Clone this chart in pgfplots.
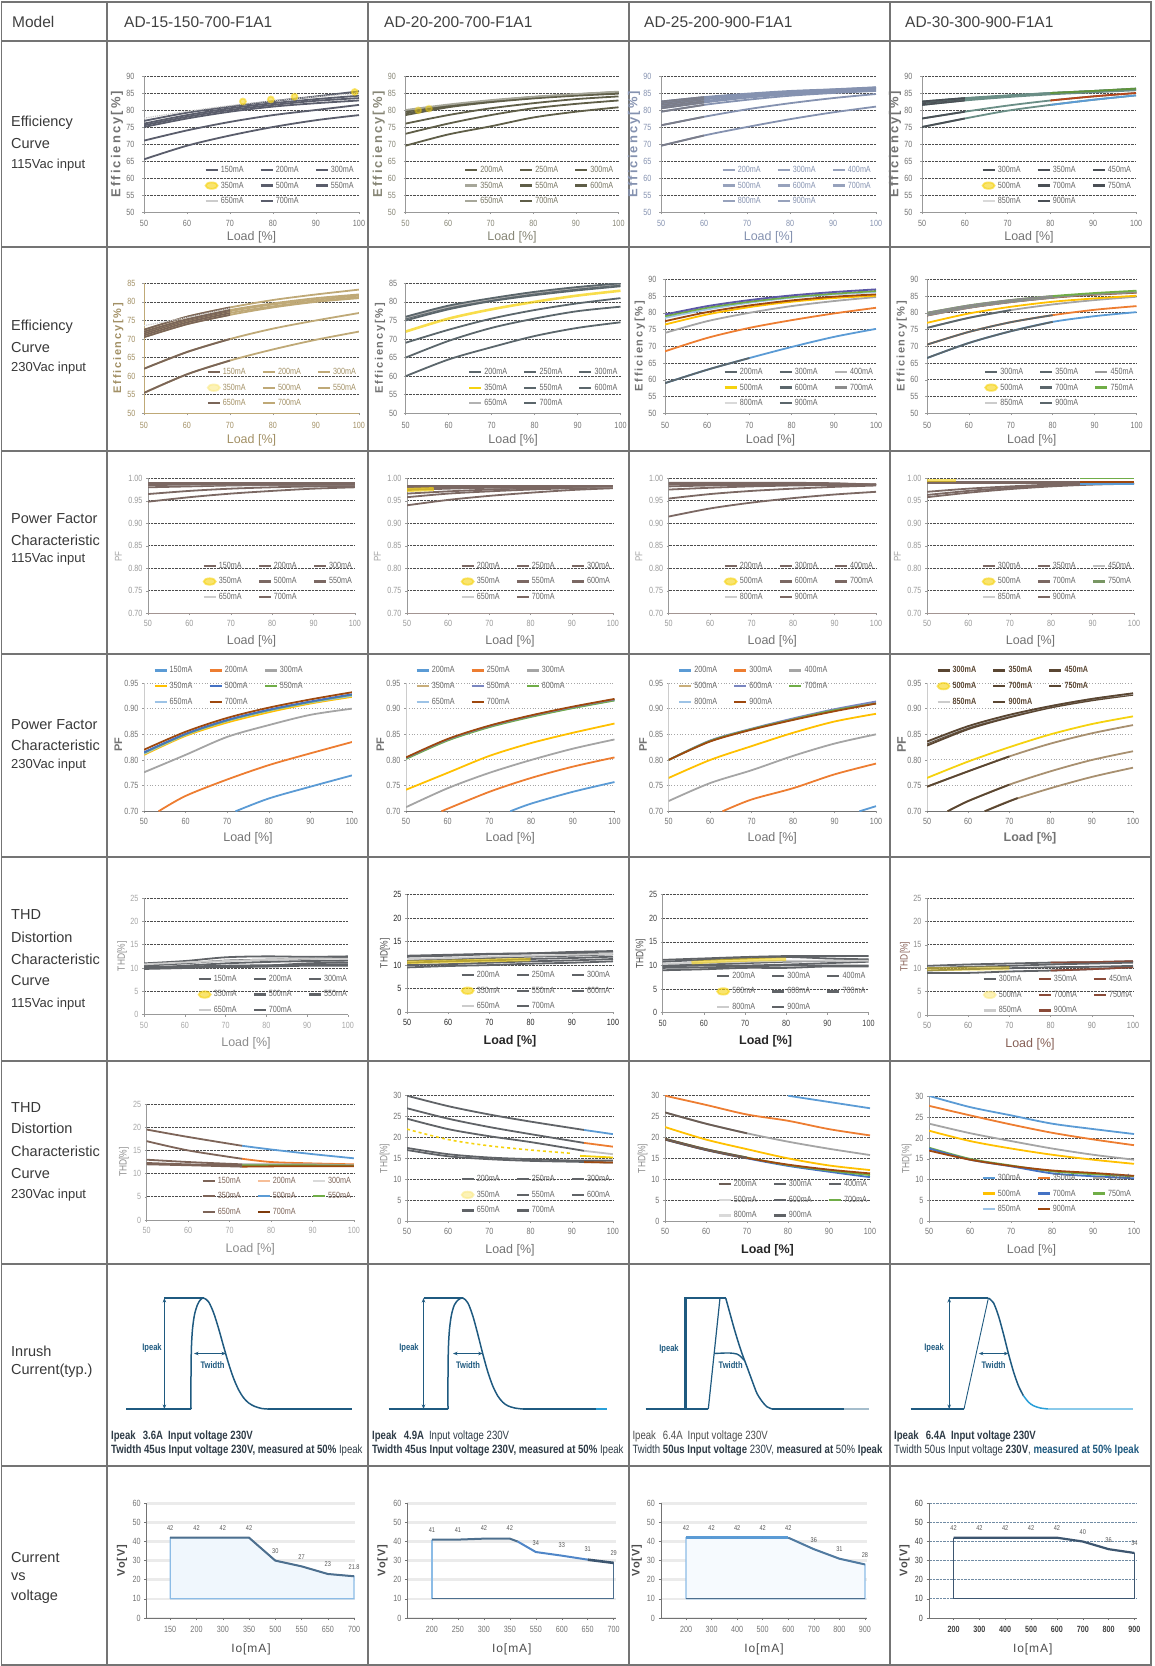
\documentclass[border=0pt]{standalone}
\usepackage{fontspec}
\setmainfont{Liberation Sans}
\newfontfamily\cf[FakeStretch=0.8]{Liberation Sans}
\newfontfamily\lsa[LetterSpace=16]{Liberation Sans}
\newfontfamily\lsb[LetterSpace=8]{Liberation Sans}
\usepackage{pgfplots}
\pgfplotsset{compat=1.18}
\usetikzlibrary{arrows.meta}

\definecolor{xblue}{HTML}{5B9BD5}
\definecolor{xorange}{HTML}{ED7D31}
\definecolor{xgrey}{HTML}{A5A5A5}
\definecolor{xyellow}{HTML}{FFC000}
\definecolor{xdblue}{HTML}{4472C4}
\definecolor{xgreen}{HTML}{70AD47}
\definecolor{xlblue}{HTML}{9DC3E6}
\definecolor{xdred}{HTML}{9E480E}
\definecolor{yel}{HTML}{F5D20F}
\definecolor{cA}{HTML}{5A5D6B}
\definecolor{cB}{HTML}{5F5E48}
\definecolor{cC}{HTML}{8592B0}
\definecolor{cD}{HTML}{6A8E86}
\definecolor{cDk}{HTML}{4A4F55}
\definecolor{cDr}{HTML}{B5451B}
\definecolor{cE}{HTML}{7A6558}
\definecolor{cEt}{HTML}{BFA977}
\definecolor{cF}{HTML}{5B666B}
\definecolor{cP}{HTML}{5B57A6}
\definecolor{cG}{HTML}{7B6863}
\definecolor{cH}{HTML}{C9AE7A}
\definecolor{cHp}{HTML}{7A86C0}
\definecolor{cI}{HTML}{5A4632}
\definecolor{cIt}{HTML}{A89070}
\definecolor{cJ}{HTML}{606367}
\definecolor{cJb}{HTML}{8A4A38}
\definecolor{cK}{HTML}{7D6458}
\definecolor{cKb}{HTML}{6B5D55}
\definecolor{inr}{HTML}{1F5A80}
\definecolor{inrl}{HTML}{2A9FD8}
\definecolor{vline}{HTML}{4D6F8E}
\definecolor{vfill}{HTML}{F0F7FD}
\definecolor{vedge}{HTML}{8CBCE6}
\definecolor{vmid}{HTML}{4F86C8}
\definecolor{vdark}{HTML}{3D5670}
\definecolor{tbl}{HTML}{747474}
\definecolor{txt}{HTML}{2E3B46}

\newcommand{\fs}[1]{\fontsize{#1}{#1}\selectfont}
\newcommand{\crv}[7]{\addplot[#1,forget plot] coordinates {(50,#2)(60,#3)(70,#4)(80,#5)(90,#6)(100,#7)};}
\newcommand{\crvo}[8]{\addplot[#1,forget plot] coordinates {(50,#3)(60,#4)(70,#5)(80,#6)(90,#7)(100,#8)};%
\addplot[#2,forget plot] coordinates {(50,#3)(60,#4)(70,#5)(80,#6)(90,#7)(100,#8)};}
\newcommand{\LE}[2]{\addlegendimage{#1}\addlegendentry{#2}}
\newcommand{\LB}[2]{\addlegendimage{legend image code/.code={\fill[#1,opacity=0.6] (6pt,0pt) ellipse (6pt and 3.2pt);}}\addlegendentry{#2}}
\newcommand{\rh}[3]{\node[anchor=west,font=\fs{#1},text=black!78,inner sep=0pt] at (11pt,-#2pt) {#3};}

\pgfplotsset{
 ch/.style={scale only axis, anchor=north west, xmin=50, xmax=100, xtick={50,60,70,80,90,100},
  axis x line*=bottom, axis y line*=left,
  axis line style={line width=0.8pt, draw=black!40},
  ymajorgrids, grid style={densely dotted, line width=0.75pt, draw=black!70},
  tick align=outside, major tick length=2pt, tick style={draw=black!40, line width=0.5pt},
  tick label style={font=\cf\fs{9}, text=black!55},
  /pgf/number format/assume math mode=true,
  xlabel={Load [\%]}, label style={font=\fs{12.5}, text=black!55},
  xlabel style={at={(axis description cs:0.5,0)}, anchor=center},
  every axis plot/.append style={smooth, line width=1.8pt, mark=none},
  legend columns=3, legend cell align=left,
  legend style={draw=none, fill=none, font=\cf\fs{9}, text=black!60, row sep=3.8pt,
    /tikz/every even column/.append style={column sep=14pt}},
  legend image code/.code={\draw[line width=2.3pt] (0pt,0pt) -- (12pt,0pt);},
 },
 r1/.style={ymin=50, ymax=90, ytick={50,55,...,90}, ylabel={Efficiency[\%]},
  ylabel style={font=\lsa\bfseries\fs{13}, text=black!55, at={(axis description cs:-0.126,0.5)}, anchor=center},
  xlabel style={yshift=-25.6pt}, yticklabel style={xshift=-4pt}, xticklabel style={yshift=-3pt},
  legend style={at={(1.0,0.02)}, anchor=south east}},
 r2/.style={ymin=50, ymax=85, ytick={50,55,...,85}, ylabel={Efficiency[\%]},
  ylabel style={font=\lsa\bfseries\fs{11}, text=black!55, at={(axis description cs:-0.12,0.5)}, anchor=center},
  xlabel style={yshift=-26.7pt}, yticklabel style={xshift=-3pt}, xticklabel style={yshift=-3.5pt},
  legend style={at={(1.01,0.015)}, anchor=south east}},
 r2b/.style={r2, ymax=90, ytick={50,55,...,90}},
 r3/.style={ymin=0.7, ymax=1, ytick={0.70,0.75,0.80,0.85,0.90,0.95,1.00},
  yticklabel style={/pgf/number format/fixed, /pgf/number format/fixed zerofill, /pgf/number format/precision=2},
  ylabel={PF}, ylabel style={font=\cf\fs{10}, text=black!35, at={(axis description cs:-0.143,0.42)}, anchor=center},
  tick label style={text=black!40}, x axis line style={line width=1.6pt, draw=cG!70},
  xlabel style={yshift=-27.7pt}, xticklabel style={yshift=-1pt},
  legend style={at={(1.01,0.06)}, anchor=south east}},
 r4/.style={ymin=0.7, ymax=0.95, ytick={0.70,0.75,0.80,0.85,0.90,0.95},
  yticklabel style={/pgf/number format/fixed, /pgf/number format/fixed zerofill, /pgf/number format/precision=2},
  ylabel={PF}, ylabel style={font=\bfseries\fs{11}, text=black!55, at={(axis description cs:-0.123,0.52)}, anchor=center},
  grid style={dotted, line width=1pt, draw=black!35}, x axis line style={line width=1.3pt, draw=black!55},
  y axis line style={draw=black!20},
  xlabel style={yshift=-26.7pt}, xticklabel style={yshift=-1.5pt},
  legend style={at={(0.03,1.16)}, anchor=north west}},
 r5/.style={ymin=0, ymax=25, ytick={0,5,...,25}, ylabel={THD[\%]},
  ylabel style={font=\cf\fs{10.5}, text=black!45, at={(axis description cs:-0.107,0.5)}, anchor=center},
  xlabel style={yshift=-29pt}, xticklabel style={yshift=-2pt},
  legend style={at={(1.02,-0.03)}, anchor=south east}},
 r6/.style={r5, ylabel style={at={(axis description cs:-0.109,0.5)}}, legend style={at={(1.01,0.0)}, anchor=south east}},
 r6b/.style={r6, ymax=30, ytick={0,5,...,30}},
 ir/.style={scale only axis, anchor=south west, hide axis, xmin=0, xmax=261, ymin=0, ymax=1,
  width=261pt, height=111pt, clip=false, cycle list={{inr,mark=none,solid}},
  every axis plot/.append style={line width=1.5pt, mark=none, sharp plot}},
 ar/.style={inr, line width=0.7pt, arrows={Stealth[length=4.5pt,width=3.5pt]-Stealth[length=4.5pt,width=3.5pt]}},
 vv/.style={scale only axis, anchor=north west, ymin=0, ymax=60, ytick={0,10,...,60}, xtick={0,...,7},
  height=114.6pt, axis x line*=bottom, axis y line*=left,
  axis line style={line width=0.7pt, draw=black!55},
  ymajorgrids, grid style={line width=2.5pt, draw=black!8},
  tick align=outside, major tick length=2.5pt, tick style={draw=black!55, line width=0.5pt},
  tick label style={font=\cf\fs{9}, text=black!55}, xticklabel style={yshift=-2pt},
  /pgf/number format/assume math mode=true,
  xlabel={Io[mA]}, ylabel={Vo[V]},
  xlabel style={font=\lsb\fs{12}, text=black!70, at={(axis description cs:0.5,0)}, anchor=center, yshift=-31pt},
  ylabel style={font=\lsb\bfseries\fs{11}, text=black!70, at={(axis description cs:-0.118,0.5)}, anchor=center}},
 lab/.style={only marks, mark=*, mark size=0pt, nodes near coords, point meta=explicit symbolic,
  every node near coord/.append style={font=\cf\fs{7}, text=black!65, anchor=south, yshift=3.5pt}},
}

\begin{document}
\begin{tikzpicture}
\path[use as bounding box] (0,0) rectangle (1155pt,-1666pt);
% ---- table ----
\draw[tbl, line width=1.6pt] (1.5pt,-2pt) rectangle (1151pt,-1665pt);
\foreach \x in {107,368,629,890} \draw[tbl, line width=1.3pt] (\x pt,-2pt) -- (\x pt,-1665pt);
\foreach \y in {41,247,451,654,857,1061,1264,1466} \draw[tbl, line width=1.8pt] (1.5pt,-\y pt) -- (1151pt,-\y pt);
\node[anchor=west,font=\fs{15.5},text=black!75,inner sep=0pt] at (12pt,-22pt) {Model};
\node[anchor=west,font=\fs{15.5},text=black!75,inner sep=0pt] at (124pt,-22pt) {AD-15-150-700-F1A1};
\node[anchor=west,font=\fs{15.5},text=black!75,inner sep=0pt] at (384pt,-22pt) {AD-20-200-700-F1A1};
\node[anchor=west,font=\fs{15.5},text=black!75,inner sep=0pt] at (644pt,-22pt) {AD-25-200-900-F1A1};
\node[anchor=west,font=\fs{15.5},text=black!75,inner sep=0pt] at (905pt,-22pt) {AD-30-300-900-F1A1};
\rh{14.5}{123}{Efficiency}\rh{14.5}{144}{Curve}\rh{13}{165}{115Vac input}
\rh{14.5}{327}{Efficiency}\rh{14.5}{348}{Curve}\rh{13}{368}{230Vac input}
\rh{14.5}{519}{Power Factor}\rh{14.5}{540}{Characteristic}\rh{13}{559}{115Vac input}
\rh{14.5}{725}{Power Factor}\rh{14.5}{745}{Characteristic}\rh{13}{765}{230Vac input}
\rh{14.5}{914}{THD}\rh{14.5}{937}{Distortion}\rh{14.5}{959}{Characteristic}\rh{14.5}{980}{Curve}\rh{13}{1004}{115Vac input}
\rh{14.5}{1107}{THD}\rh{14.5}{1128}{Distortion}\rh{14.5}{1151}{Characteristic}\rh{14.5}{1173}{Curve}\rh{13}{1195}{230Vac input}
\rh{14.5}{1351}{Inrush}\rh{14.5}{1371}{Current(typ.)}
\rh{14.5}{1557}{Current}\rh{14.5}{1577}{vs}\rh{14.5}{1597}{voltage}

% ================= ROW 1 =================
\begin{axis}[ch, r1, at={(144pt,-76pt)}, width=215pt, height=136pt]
\crv{cA}{65.5}{69.5}{72.5}{75}{77}{78.5}
\crv{cA}{71}{74}{76.5}{78.5}{80}{81.5}
\crv{cA}{75}{77.5}{79.5}{81}{82}{82.8}
\crv{cA}{75.5}{78}{80}{81.5}{82.7}{83.5}
\crv{cA}{76}{78.5}{80.5}{82}{83.2}{84.2}
\crv{cA}{76.8}{79.2}{81}{82.6}{84}{85.5}
\crv{black!22,line width=1.2pt,densely dotted}{77.6}{79.6}{81.3}{82.7}{83.9}{84.9}
\addplot[only marks,mark=*,mark size=3pt,yel,opacity=0.55,forget plot] coordinates {(73,82.5)(79.5,83.1)(85,83.9)(99,85.3)};
\LE{cA}{150mA}\LE{cA}{200mA}\LE{cA}{300mA}
\LB{yel}{350mA}\LE{cA}{500mA}\LE{cA}{550mA}
\LE{black!20}{650mA}\LE{cA}{700mA}
\end{axis}

\begin{axis}[ch, r1, at={(405.5pt,-76pt)}, width=213pt, height=136pt, tick label style={text=cB!75}, label style={text=cB!75}, legend style={text=cB!85}]
\crv{cB}{69.5}{72.8}{75.2}{77.8}{79.5}{80.8}
\crv{cB}{73}{76}{78.5}{80.5}{81.8}{82.8}
\crv{cB}{76}{78.5}{80.5}{82}{83.2}{84}
\crv{cB}{78.5}{80.8}{82.3}{83.4}{84.2}{84.8}
\crv{cB}{79}{81}{82.5}{83.6}{84.5}{85.2}
\crv{cB}{79.5}{81.3}{82.7}{83.8}{84.6}{85.3}
\crv{cB!55}{80}{81.6}{82.9}{83.9}{84.7}{85.4}
\addplot[only marks,mark=*,mark size=3pt,yel,opacity=0.4,forget plot] coordinates {(53,79.9)(55.5,80.4)};
\LE{cB}{200mA}\LE{cB}{250mA}\LE{cB}{300mA}
\LE{cB!55}{350mA}\LE{cB}{550mA}\LE{cB}{600mA}
\LE{cB!55}{650mA}\LE{cB}{700mA}
\end{axis}

\begin{axis}[ch, r1, at={(661pt,-76pt)}, width=215pt, height=136pt, tick label style={text=cC}, label style={text=cC}, legend style={text=cC}]
\crvo{cC}{cA!80,restrict x to domain=50:60}{69.5}{72.5}{75}{77.3}{79.3}{81}
\crvo{cC}{cA!80,restrict x to domain=50:60}{75.5}{78}{80.2}{82}{83.5}{84.7}
\crvo{cC}{cA!80,restrict x to domain=50:60}{79.5}{81.5}{83}{84.2}{85}{85.6}
\crvo{cC}{cA!80,restrict x to domain=50:60}{80.5}{82.2}{83.6}{84.6}{85.3}{85.9}
\crvo{cC}{cA!80,restrict x to domain=50:60}{81}{82.6}{84}{84.9}{85.6}{86.2}
\crvo{cC}{cA!80,restrict x to domain=50:60}{81.5}{83.1}{84.3}{85.2}{85.8}{86.4}
\crvo{cC}{cA!80,restrict x to domain=50:60}{82}{83.5}{84.6}{85.4}{86}{86.6}
\crvo{cC}{cA!80,restrict x to domain=50:60}{82.5}{83.8}{84.8}{85.6}{86.1}{86.7}
\LE{cC!85}{200mA}\LE{cC!85}{300mA}\LE{cC!85}{400mA}
\LE{cC!85}{500mA}\LE{cC!85}{600mA}\LE{cC!85}{700mA}
\LE{cC!85}{800mA}\LE{cC!85}{900mA}
\end{axis}

\begin{axis}[ch, r1, at={(922pt,-76pt)}, width=214pt, height=136pt]
\crvo{cD}{cDk,restrict x to domain=50:60}{75}{77.5}{79.8}{81.5}{83}{84.3}
\crv{xblue,restrict x to domain=80:100}{75}{77.5}{79.8}{81.5}{83}{84.3}
\crvo{cD}{cDk,restrict x to domain=50:60}{77.5}{79.5}{81.3}{82.8}{84}{85}
\crv{cDr,restrict x to domain=80:100}{77.5}{79.5}{81.3}{82.8}{84}{85}
\crvo{cD}{cDk,restrict x to domain=50:60}{81.5}{82.8}{83.8}{84.6}{85.2}{85.8}
\crvo{cD}{cDk,restrict x to domain=50:60}{82}{83.2}{84.1}{84.9}{85.5}{86}
\crvo{cD}{cDk,restrict x to domain=50:60}{82.3}{83.4}{84.2}{85}{85.6}{86.2}
\crvo{cD}{cDk,restrict x to domain=50:60}{82.5}{83.5}{84.3}{85}{85.6}{86.3}
\crv{xgreen!85!black,restrict x to domain=80:100}{82.5}{83.5}{84.3}{85}{85.6}{86.3}
\LE{cDk}{300mA}\LE{cDk}{350mA}\LE{cDk}{450mA}
\LB{yel}{500mA}\LE{cDk}{700mA}\LE{cDk}{750mA}
\LE{black!15}{850mA}\LE{cDk}{900mA}
\end{axis}

% ================= ROW 2 =================
\begin{axis}[ch, r2, at={(144pt,-283.3pt)}, width=215pt, height=130pt, tick label style={text=cEt!85!black}, label style={text=cEt!85!black}, legend style={text=cEt!85!black}, axis line style={draw=cEt}]
\crvo{cEt}{cE,restrict x to domain=50:70}{55.5}{60.5}{64.2}{67.2}{69.8}{72}
\crvo{cEt}{cE,restrict x to domain=50:70}{62}{66.5}{70}{72.8}{75}{77}
\crvo{cEt}{cE,restrict x to domain=50:70}{70.5}{74}{76.5}{78.5}{80}{81}
\crvo{cEt}{cE,restrict x to domain=50:70}{71}{74.5}{77}{78.8}{80.2}{81.3}
\crvo{cEt}{cE,restrict x to domain=50:70}{71.5}{75}{77.5}{79.3}{80.6}{81.7}
\crvo{cEt}{cE,restrict x to domain=50:70}{72}{75.3}{77.8}{79.6}{81}{82}
\crvo{cEt}{cE,restrict x to domain=50:70}{72.5}{76}{78.5}{80.5}{82}{83.3}
\crv{black!18,line width=1.2pt,densely dotted,restrict x to domain=50:70}{73.6}{75.8}{78.3}{80}{81}{82}
\LE{cE}{150mA}\LE{cEt}{200mA}\LE{cEt}{300mA}
\LB{yel!50}{350mA}\LE{cEt}{500mA}\LE{cEt}{550mA}
\LE{cE}{650mA}\LE{cEt}{700mA}
\end{axis}

\begin{axis}[ch, r2, at={(405.7pt,-283.3pt)}, width=214.8pt, height=130pt]
\crv{cF}{60}{64.5}{67.8}{70.8}{73}{74.5}
\crv{cF}{65}{69.5}{73}{75.5}{77.5}{78.7}
\crv{cF}{69}{72.5}{75.5}{77.8}{79.6}{81}
\crv{yel,line width=2.6pt,opacity=0.75}{72}{75.5}{78}{80}{81.7}{83}
\crv{cF}{75}{78}{80.2}{81.8}{83.1}{84.2}
\crv{cF}{75.5}{78.4}{80.5}{82.2}{83.5}{84.6}
\crv{black!30}{75.8}{78.7}{80.8}{82.5}{83.8}{84.9}
\crv{cF}{76}{79}{81}{82.7}{84}{85}
\LE{cF}{200mA}\LE{cF}{250mA}\LE{cF}{300mA}
\LE{yel}{350mA}\LE{cF}{550mA}\LE{cF}{600mA}
\LE{black!30}{650mA}\LE{cF}{700mA}
\end{axis}

\begin{axis}[ch, r2b, at={(665pt,-279.3pt)}, width=211pt, height=134pt]
\crvo{xblue}{cF,restrict x to domain=50:70}{59}{63}{66.5}{69.8}{72.8}{75.2}
\crv{xorange}{68.5}{72.5}{75.5}{77.8}{79.8}{81.5}
\crv{xgrey}{74}{77.5}{80}{82}{83.5}{84.7}
\crv{xyellow}{76.5}{79.5}{81.7}{83.3}{84.4}{85.1}
\crv{xdred}{77.5}{80.2}{82.2}{83.7}{84.8}{85.5}
\crv{xlblue}{78.5}{81}{83}{84.5}{85.5}{86.2}
\crv{xgreen}{79}{81.5}{83.3}{84.7}{85.7}{86.5}
\crv{cP}{79.5}{82}{83.8}{85.2}{86.2}{87}
\LE{cF}{200mA}\LE{cF}{300mA}\LE{black!30}{400mA}
\LE{yel}{500mA}\LE{cF}{600mA}\LE{black!45}{700mA}
\LE{black!15}{800mA}\LE{cF}{900mA}
\end{axis}

\begin{axis}[ch, r2b, at={(927pt,-279.3pt)}, width=209.5pt, height=134pt]
\crvo{xblue}{cF,restrict x to domain=50:80}{66.5}{71}{74.5}{77.3}{79}{80.2}
\crvo{xorange}{cF,restrict x to domain=50:80}{70.5}{74.3}{77.2}{79.3}{80.9}{82}
\crvo{xgrey}{cF,restrict x to domain=50:70}{75.5}{78.5}{80.8}{82.5}{83.8}{84.8}
\crv{xyellow}{77}{79.8}{81.8}{83.3}{84.3}{85.1}
\crvo{xdred}{black!45,restrict x to domain=50:80}{79.2}{81.5}{83.2}{84.5}{85.4}{86}
\crv{black!25}{79.8}{82}{83.6}{84.8}{85.7}{86.3}
\crv{black!45}{79.5}{81.8}{83.4}{84.6}{85.5}{86.1}
\crvo{xgreen}{black!45,restrict x to domain=50:80}{80}{82.2}{83.8}{85}{85.9}{86.6}
\LE{cF}{300mA}\LE{cF}{350mA}\LE{black!40}{450mA}
\LB{yel}{500mA}\LE{cF}{700mA}\LE{xgreen}{750mA}
\LE{black!20}{850mA}\LE{cF}{900mA}
\end{axis}

% ================= ROW 3 =================
\begin{axis}[ch, r3, at={(148pt,-478.3pt)}, width=207pt, height=135pt]
\crv{cG}{0.948}{0.958}{0.966}{0.972}{0.977}{0.980}
\crv{cG}{0.965}{0.972}{0.977}{0.980}{0.982}{0.983}
\crv{cG}{0.980}{0.982}{0.984}{0.985}{0.985}{0.985}
\crv{black!20,line width=1pt}{0.984}{0.985}{0.986}{0.986}{0.986}{0.986}
\crv{cG}{0.985}{0.986}{0.987}{0.987}{0.987}{0.987}
\crv{cG}{0.987}{0.988}{0.988}{0.988}{0.988}{0.988}
\crv{cG}{0.989}{0.989}{0.989}{0.989}{0.989}{0.989}
\crv{cG}{0.990}{0.990}{0.990}{0.990}{0.990}{0.990}
\LE{cG}{150mA}\LE{cG}{200mA}\LE{cG}{300mA}
\LB{yel}{350mA}\LE{cG}{500mA}\LE{cG}{550mA}
\LE{black!20}{650mA}\LE{cG}{700mA}
\end{axis}

\begin{axis}[ch, r3, at={(407pt,-478.3pt)}, width=206pt, height=135pt]
\crv{cG}{0.940}{0.952}{0.961}{0.968}{0.974}{0.978}
\crv{cG}{0.958}{0.966}{0.971}{0.975}{0.978}{0.980}
\crv{cG}{0.966}{0.971}{0.975}{0.978}{0.980}{0.981}
\crv{black!20,line width=1pt}{0.976}{0.978}{0.979}{0.980}{0.981}{0.981}
\crv{cG}{0.974}{0.977}{0.979}{0.980}{0.981}{0.982}
\crv{cG}{0.979}{0.980}{0.981}{0.982}{0.982}{0.983}
\crv{cG}{0.983}{0.983}{0.983}{0.983}{0.983}{0.983}
\addplot[yel,line width=4pt,opacity=0.7,forget plot] coordinates {(50,0.974)(53,0.975)(56.5,0.976)};
\LE{cG}{200mA}\LE{cG}{250mA}\LE{cG}{300mA}
\LB{yel}{350mA}\LE{cG}{550mA}\LE{cG}{600mA}
\LE{black!20}{650mA}\LE{cG}{700mA}
\end{axis}

\begin{axis}[ch, r3, at={(668.6pt,-478.3pt)}, width=207.4pt, height=135pt]
\crv{cG}{0.915}{0.933}{0.946}{0.956}{0.964}{0.970}
\crv{cG}{0.955}{0.965}{0.972}{0.977}{0.981}{0.984}
\crv{cG}{0.975}{0.979}{0.982}{0.984}{0.985}{0.986}
\crv{cG}{0.982}{0.984}{0.985}{0.986}{0.986}{0.986}
\crv{black!20,line width=1pt}{0.987}{0.987}{0.987}{0.987}{0.987}{0.986}
\crv{cG}{0.986}{0.987}{0.987}{0.987}{0.987}{0.986}
\crv{cG}{0.988}{0.988}{0.988}{0.988}{0.988}{0.986}
\crv{cG}{0.990}{0.990}{0.990}{0.990}{0.989}{0.986}
\LE{cG}{200mA}\LE{cG}{300mA}\LE{cG}{400mA}
\LB{yel}{500mA}\LE{cG}{600mA}\LE{cG}{700mA}
\LE{black!20}{800mA}\LE{cG}{900mA}
\end{axis}

\begin{axis}[ch, r3, at={(927pt,-478.3pt)}, width=207pt, height=135pt]
\crv{cG}{0.958}{0.968}{0.976}{0.982}{0.986}{0.988}
\crv{cG}{0.963}{0.972}{0.979}{0.984}{0.987}{0.989}
\crv{cG}{0.970}{0.977}{0.982}{0.986}{0.988}{0.990}
\crv{cG}{0.990}{0.990}{0.990}{0.990}{0.990}{0.990}
\crv{cG}{0.991}{0.991}{0.991}{0.991}{0.991}{0.991}
\addplot[xblue,forget plot] coordinates {(87,0.988)(100,0.988)};
\addplot[xdred,forget plot] coordinates {(87,0.991)(100,0.991)};
\addplot[xgreen,line width=1pt,forget plot] coordinates {(87,0.9995)(100,0.9995)};
\addplot[yel,line width=3.5pt,opacity=0.6,forget plot] coordinates {(50,0.995)(57,0.995)};
\addplot[black!15,line width=1pt,forget plot] coordinates {(57,0.997)(80,0.997)};
\LE{cG}{300mA}\LE{cG}{350mA}\LE{black!25}{450mA}
\LB{yel}{500mA}\LE{cG}{700mA}\LE{xgreen!50!gray}{750mA}
\LE{black!20}{850mA}\LE{cG}{900mA}
\end{axis}

% ================= ROW 4 =================
\begin{axis}[ch, r4, at={(144pt,-683pt)}, width=208pt, height=128.3pt]
\addplot[xblue,forget plot] coordinates {(72,0.70)(80,0.725)(90,0.748)(100,0.770)};
\addplot[xorange,forget plot] coordinates {(53.5,0.70)(60,0.73)(70,0.762)(80,0.79)(90,0.813)(100,0.835)};
\crv{xgrey}{0.776}{0.81}{0.845}{0.868}{0.888}{0.90}
\crv{xyellow}{0.81}{0.847}{0.873}{0.893}{0.91}{0.923}
\crv{xlblue}{0.812}{0.849}{0.876}{0.896}{0.912}{0.925}
\crv{xgreen}{0.814}{0.85}{0.877}{0.897}{0.913}{0.927}
\crv{xdblue}{0.815}{0.851}{0.878}{0.898}{0.914}{0.928}
\crv{xdred}{0.82}{0.855}{0.882}{0.902}{0.918}{0.932}
\LE{xblue}{150mA}\LE{xorange}{200mA}\LE{xgrey}{300mA}
\LE{xyellow}{350mA}\LE{xdblue}{500mA}\LE{xgreen}{550mA}
\LE{xlblue}{650mA}\LE{xdred}{700mA}
\end{axis}

\begin{axis}[ch, r4, at={(406pt,-683pt)}, width=208.5pt, height=128.3pt]
\addplot[xblue,forget plot] coordinates {(75,0.70)(80,0.715)(90,0.738)(100,0.757)};
\addplot[xorange,forget plot] coordinates {(58.5,0.70)(70,0.738)(80,0.765)(90,0.787)(100,0.805)};
\crv{xgrey}{0.708}{0.745}{0.775}{0.80}{0.822}{0.84}
\crv{xyellow}{0.742}{0.775}{0.808}{0.833}{0.853}{0.871}
\crv{xlblue}{0.803}{0.839}{0.865}{0.885}{0.902}{0.916}
\crv{xgreen}{0.802}{0.838}{0.864}{0.884}{0.901}{0.916}
\crv{cHp}{0.804}{0.840}{0.866}{0.886}{0.903}{0.918}
\crv{xdred}{0.805}{0.841}{0.867}{0.887}{0.904}{0.919}
\LE{xblue}{200mA}\LE{xorange}{250mA}\LE{xgrey}{300mA}
\LE{cH}{350mA}\LE{cHp}{550mA}\LE{xgreen}{600mA}
\LE{xlblue}{650mA}\LE{xdred}{700mA}
\end{axis}

\begin{axis}[ch, r4, at={(668.6pt,-683pt)}, width=207.4pt, height=128.3pt]
\addplot[xblue,forget plot] coordinates {(96,0.70)(100,0.71)};
\addplot[xorange,forget plot] coordinates {(63,0.70)(70,0.723)(80,0.745)(90,0.772)(100,0.793)};
\crv{xgrey}{0.72}{0.755}{0.78}{0.808}{0.832}{0.85}
\crv{xyellow}{0.765}{0.80}{0.827}{0.853}{0.875}{0.89}
\crv{xlblue}{0.80}{0.837}{0.86}{0.88}{0.897}{0.911}
\crv{cHp}{0.80}{0.838}{0.861}{0.881}{0.899}{0.914}
\crv{xgreen}{0.80}{0.837}{0.86}{0.879}{0.897}{0.91}
\crv{xdred}{0.80}{0.836}{0.859}{0.878}{0.895}{0.91}
\LE{xblue}{200mA}\LE{xorange}{300mA}\LE{xgrey}{400mA}
\LE{cH}{500mA}\LE{cHp}{600mA}\LE{xgreen}{700mA}
\LE{xlblue}{800mA}\LE{xdred}{900mA}
\end{axis}

\begin{axis}[ch, r4, at={(927pt,-683pt)}, width=206pt, height=128.3pt, legend style={text=cI, font=\cf\bfseries\fs{9}}, label style={font=\bfseries\fs{12.5}}]
\addplot[cIt,forget plot] coordinates {(64,0.70)(70,0.72)(80,0.745)(90,0.767)(100,0.785)};
\addplot[cI,forget plot] coordinates {(64,0.70)(68,0.713)(72,0.726)};
\addplot[cIt,forget plot] coordinates {(55,0.70)(60,0.72)(70,0.752)(80,0.778)(90,0.80)(100,0.817)};
\addplot[cI,forget plot] coordinates {(55,0.70)(60,0.72)(70,0.752)};
\crvo{cIt}{cI,restrict x to domain=50:70}{0.748}{0.778}{0.807}{0.832}{0.852}{0.868}
\crv{yel}{0.765}{0.797}{0.825}{0.85}{0.87}{0.885}
\crv{cI}{0.828}{0.86}{0.883}{0.902}{0.916}{0.927}
\crv{cI}{0.832}{0.863}{0.886}{0.904}{0.918}{0.929}
\crv{black!25}{0.834}{0.865}{0.887}{0.905}{0.919}{0.929}
\crv{cI}{0.836}{0.866}{0.888}{0.905}{0.919}{0.930}
\LE{cI}{300mA}\LE{cI}{350mA}\LE{cI}{450mA}
\LB{yel}{500mA}\LE{cI}{700mA}\LE{cI}{750mA}
\LE{black!20}{850mA}\LE{cI}{900mA}
\end{axis}

% ================= ROW 5 =================
\begin{axis}[ch, r5, at={(144pt,-898pt)}, width=204pt, height=116.7pt, tick label style={text=black!35}, label style={text=black!45}]
\crv{cJ}{10}{10.3}{10.5}{10.6}{10.7}{10.8}
\crv{cJ}{10.5}{11}{11.6}{11.8}{12}{12.3}
\crv{cJ}{11}{11.5}{12.3}{12.5}{12.4}{12.5}
\crv{cJ}{10}{10.5}{11}{11.3}{11.5}{11.6}
\crv{cJ}{10.2}{10.3}{10.2}{10.3}{10.5}{10.5}
\crv{cJ}{9.8}{10}{10.2}{10.5}{11}{11.2}
\crv{black!20}{10.8}{11.2}{11.5}{11.8}{12}{12}
\LE{cJ}{150mA}\LE{cJ}{200mA}\LE{cJ}{300mA}
\LB{yel}{350mA}\LE{cJ}{500mA}\LE{cJ}{550mA}
\LE{black!20}{650mA}\LE{cJ}{700mA}
\end{axis}

\begin{axis}[ch, r5, at={(407pt,-894.7pt)}, width=206pt, height=117.3pt, tick label style={text=black!85}, xlabel style={text=black!85, font=\bfseries\fs{12.5}}, ylabel style={text=black!70}, legend style={at={(1.01,-0.02)}}]
\crv{cJ}{10}{10.2}{10.5}{10.8}{11}{11.3}
\crv{cJ}{10.5}{10.8}{11}{11.3}{11.5}{11.8}
\crv{cJ}{11.8}{12}{12.3}{12.5}{12.8}{13}
\crv{cJ}{11}{11.2}{11.5}{11.8}{12}{12.3}
\crv{cJ}{12}{12.2}{12.4}{12.5}{12.6}{12.5}
\crv{cJ}{9.5}{9.8}{10}{10.3}{10.5}{10.8}
\crv{black!20}{11.3}{11.5}{11.8}{12}{12.2}{12.4}
\addplot[yel,line width=3.5pt,opacity=0.6,forget plot] coordinates {(50,10.6)(60,10.8)(70,11)(80,11.2)};
\LE{cJ}{200mA}\LE{cJ}{250mA}\LE{cJ}{300mA}
\LB{yel}{350mA}\LE{cJ}{550mA}\LE{cJ}{600mA}
\LE{black!20}{650mA}\LE{cJ}{700mA}
\end{axis}

\begin{axis}[ch, r5, at={(662.7pt,-894.7pt)}, width=205.8pt, height=118pt, tick label style={text=black!75}, xlabel style={text=black!85, font=\bfseries\fs{12.5}}, ylabel style={text=black!70}, legend style={at={(1.01,-0.02)}}]
\crv{cJ}{10.8}{11.2}{11.5}{11.8}{11.5}{11.3}
\crv{cJ}{11.2}{11.5}{11.8}{12}{12}{12}
\crv{cJ}{10}{10.2}{10.5}{10.8}{11}{11.2}
\crv{cJ}{9.8}{10}{10}{10.2}{10.5}{10.8}
\crv{cJ}{9.5}{9.6}{9.8}{10}{10}{10}
\crv{cJ}{9}{9.2}{9.5}{9.5}{9.8}{9.8}
\crv{black!20}{10.4}{10.6}{10.8}{11}{11}{11}
\addplot[yel,line width=3.5pt,opacity=0.6,forget plot] coordinates {(57,10.6)(65,11)(72,11.2)(80,11.3)};
\LE{cJ}{200mA}\LE{cJ}{300mA}\LE{cJ}{400mA}
\LB{yel}{500mA}\LE{cJ}{600mA}\LE{cJ}{700mA}
\LE{black!20}{800mA}\LE{cJ}{900mA}
\end{axis}

\begin{axis}[ch, r5, at={(927pt,-898pt)}, width=206pt, height=117pt, tick label style={text=black!45}, label style={text=cJb!60!gray}]
\crvo{cJ}{cJb,restrict x to domain=80:100}{9}{9}{9.3}{9.5}{9.8}{10.2}
\crvo{cJ}{cJb,restrict x to domain=80:100}{10.5}{10.8}{11}{11.2}{11.3}{11.5}
\crv{cJ}{9.5}{9.8}{10}{10.2}{10.3}{10.5}
\crv{cJ}{10}{10.3}{10.5}{10.8}{11}{11.2}
\addplot[yel,line width=4pt,opacity=0.45,forget plot] coordinates {(50,9.8)(60,9.9)(70,10)};
\LE{cJ}{300mA}\LE{cJb}{350mA}\LE{cJb}{450mA}
\LB{yel!50}{500mA}\LE{cJb}{700mA}\LE{cJb}{750mA}
\LE{black!20}{850mA}\LE{cJb}{900mA}
\end{axis}

% ================= ROW 6 =================
\begin{axis}[ch, r6, at={(146.6pt,-1104pt)}, width=207.4pt, height=116pt, tick label style={text=black!35}, label style={text=black!45}, legend style={text=cK}]
\addplot[xblue,forget plot] coordinates {(73,16)(80,15.2)(90,14.2)(100,13.3)};
\addplot[cK,forget plot] coordinates {(50,19.5)(60,17.9)(73,16)};
\addplot[xorange,forget plot] coordinates {(73,13.2)(80,12.5)(90,12.2)(100,12)};
\addplot[cK,forget plot] coordinates {(50,17)(60,15)(73,13.2)};
\addplot[xgrey,forget plot] coordinates {(73,12)(80,12)(90,12)(100,11.8)};
\addplot[cK,forget plot] coordinates {(50,13)(60,12.5)(73,12)};
\addplot[xgreen,forget plot] coordinates {(73,11.8)(86,11.8)(100,11.7)};
\addplot[cK,forget plot] coordinates {(50,12.3)(60,12)(73,11.8)};
\addplot[xdred,forget plot] coordinates {(73,11.5)(86,11.6)(100,11.6)};
\addplot[cK,forget plot] coordinates {(50,12)(60,11.8)(73,11.5)};
\LE{cK}{150mA}\LE{xorange!50}{200mA}\LE{black!15}{300mA}
\LE{cK}{350mA}\LE{xblue}{500mA}\LE{xgreen}{550mA}
\LE{cK}{650mA}\LE{xdred!80!black}{700mA}
\end{axis}

\begin{axis}[ch, r6b, at={(407pt,-1095.7pt)}, width=206pt, height=125.3pt, legend style={at={(1.01,0.02)}}]
\addplot[cJ,forget plot] coordinates {(50,30)(60,27.5)(70,25.5)(80,23.8)(93,21.8)};
\addplot[xblue,forget plot] coordinates {(93,21.8)(100,20.8)};
\addplot[cJ,forget plot] coordinates {(50,27)(60,24.5)(70,22.5)(80,20.8)(93,18.7)};
\addplot[xorange,forget plot] coordinates {(93,18.7)(100,17.8)};
\addplot[cJ,forget plot] coordinates {(50,24.5)(60,22)(70,20.3)(80,18.9)(93,16.8)};
\addplot[black!25,forget plot] coordinates {(93,16.8)(100,16)};
\addplot[yel,line width=1.6pt,dash pattern=on 3pt off 3pt,forget plot] coordinates {(50,22)(60,19.5)(70,18)(80,17)(90,16.2)};
\addplot[yel,forget plot] coordinates {(92,15.6)(100,15.2)};
\crv{cJ}{17.5}{16}{15.2}{14.8}{14.5}{14.5}
\crv{cJ}{17}{15.5}{14.8}{14.4}{14.2}{14}
\addplot[xdred,forget plot] coordinates {(93,14.1)(100,14)};
\LE{cJ}{200mA}\LE{cJ}{250mA}\LE{cJ}{300mA}
\LB{yel!50}{350mA}\LE{cJ}{550mA}\LE{cJ}{600mA}
\LE{cJ}{650mA}\LE{cJ}{700mA}
\end{axis}

\begin{axis}[ch, r6b, at={(665pt,-1095.7pt)}, width=205pt, height=125.3pt, xlabel style={text=black!85, font=\bfseries\fs{12.5}}, legend style={at={(1.01,-0.02)}}]
\addplot[xblue,forget plot] coordinates {(80,30)(90,28.5)(100,27)};
\crv{xorange}{30}{27.8}{25.5}{24}{22}{20.5}
\crvo{xgrey}{cKb,restrict x to domain=50:70}{26}{23.3}{21}{19}{17.3}{15.8}
\crv{xyellow}{22.5}{19.5}{17.2}{15}{13.3}{12.2}
\crvo{xdblue}{cKb,restrict x to domain=50:70}{19.5}{17}{15}{13.2}{11.8}{10.5}
\crvo{xgreen}{cKb,restrict x to domain=50:70}{19.7}{17.2}{15.2}{13.4}{12.1}{11}
\crvo{xdred}{cKb,restrict x to domain=50:70}{19.6}{17.1}{15.1}{13.5}{12.3}{11.4}
\LE{cKb}{200mA}\LE{cJ}{300mA}\LE{cJ}{400mA}
\LE{black!15}{500mA}\LE{cJ}{600mA}\LE{xgreen}{700mA}
\LE{black!15}{800mA}\LE{cJ}{900mA}
\end{axis}

\begin{axis}[ch, r6b, at={(929pt,-1096.7pt)}, width=205pt, height=124.3pt, legend style={at={(1.01,0.03)}}]
\crv{xblue}{30.2}{27.5}{25.5}{23.5}{22.2}{21}
\crv{xorange}{27.8}{25.5}{23.3}{21.3}{19.7}{18.3}
\crv{xgrey}{23.5}{21.2}{19.3}{17.5}{16}{14.8}
\crv{xyellow}{21.8}{19.3}{17.5}{16}{14.8}{13.8}
\crv{xgreen}{17.7}{15}{13.4}{12}{11.3}{10.8}
\crv{xdblue}{17.5}{14.8}{13.2}{11.5}{10.8}{10.3}
\crv{xdred}{17}{14.8}{13.3}{12.2}{11.6}{10.9}
\LE{xblue}{300mA}\LE{xorange}{350mA}\LE{xgrey}{450mA}
\LE{xyellow}{500mA}\LE{xdblue}{700mA}\LE{xgreen}{750mA}
\LE{xlblue}{850mA}\LE{xdred}{900mA}
\end{axis}

% ================= ROW 7 (inrush) =================
\begin{axis}[ir, at={(107pt,-1409pt)}]
\addplot[inr] coordinates {(19,0)(84,0)};
\addplot[inr,smooth,tension=0.5] coordinates {(84,0)(84,0.3)(84.4,0.55)(85.5,0.72)(87.5,0.85)(90.5,0.94)(93.5,0.985)(96.6,1)(101.6,0.965)(106.6,0.867)(111.6,0.725)(116.6,0.564)(121.6,0.409)(126.6,0.276)(131.6,0.173)(136.6,0.101)(141.6,0.055)(147.6,0.024)(155,0.004)(161,0)};
\addplot[inr] coordinates {(161,0)(245,0)};
\addplot[inr] coordinates {(57.4,1)(96.6,1)};
\addplot[ar] coordinates {(57.4,0)(57.4,1)};
\addplot[ar,line width=1.2pt] coordinates {(87,0.5)(119,0.5)};
\node[font=\cf\bfseries\fs{9.5},text=inr] at (axis cs:45,0.55) {Ipeak};
\node[font=\cf\bfseries\fs{9.5},text=inr] at (axis cs:105.5,0.4) {Twidth};
\end{axis}

\begin{axis}[ir, at={(368pt,-1409pt)}]
\addplot[inr] coordinates {(20.7,0)(80,0)};
\addplot[inr,smooth,tension=0.5] coordinates {(80,0)(80,0.3)(80.4,0.55)(81.5,0.72)(83.5,0.85)(86.5,0.94)(90.5,0.985)(94.8,1)(99.8,0.957)(104.8,0.839)(109.8,0.674)(114.8,0.496)(119.8,0.335)(124.8,0.207)(129.8,0.117)(134.8,0.061)(139.8,0.029)(146.8,0.009)(154.8,0)};
\addplot[inr] coordinates {(154.8,0)(228,0)};
\addplot[inrl] coordinates {(228,0)(239,0)};
\addplot[inr] coordinates {(55.5,1)(94.8,1)};
\addplot[ar] coordinates {(55.5,0)(55.5,1)};
\addplot[ar,line width=1.2pt] coordinates {(85,0.5)(114.7,0.5)};
\node[font=\cf\bfseries\fs{9.5},text=inr] at (axis cs:41,0.55) {Ipeak};
\node[font=\cf\bfseries\fs{9.5},text=inr] at (axis cs:100,0.4) {Twidth};
\end{axis}

\begin{axis}[ir, at={(629pt,-1409pt)}]
\addplot[inr] coordinates {(16.7,0)(79.3,0)};
\addplot[inr,line width=2.5pt] coordinates {(56.7,0)(56.7,1)};
\addplot[inr,line width=2.2pt] coordinates {(55,1)(96.7,1)};
\addplot[inr,line width=1.2pt] coordinates {(79.3,0)(91,1)};
\addplot[inr,smooth,tension=0.5] coordinates {(96.7,1)(101,0.86)(105,0.73)(109,0.61)(113,0.5)(118,0.38)(123.3,0.25)(128,0.14)(133.3,0.066)(138,0.02)(143.3,0)};
\addplot[inr] coordinates {(143.3,0)(215,0)};
\addplot[inr!40] coordinates {(215,0)(240,0)};
\addplot[inr,smooth,line width=1.4pt] coordinates {(85,0.5)(100,0.505)(108,0.495)(112,0.47)(115,0.44)};
\node[font=\cf\bfseries\fs{9.5},text=inr] at (axis cs:40,0.54) {Ipeak};
\node[font=\cf\bfseries\fs{9.5},text=inr] at (axis cs:101.7,0.4) {Twidth};
\end{axis}

\begin{axis}[ir, at={(890pt,-1409pt)}]
\addplot[inr] coordinates {(20.7,0)(74,0)};
\addplot[inr,line width=0.9pt] coordinates {(74,0)(98.4,1)};
\addplot[inr,smooth,tension=0.5] coordinates {(98.4,1)(103.4,0.958)(108.4,0.841)(113.4,0.678)(118.4,0.5)(123.4,0.339)(128.4,0.21)(133.4,0.12)};
\addplot[inrl,smooth,tension=0.5] coordinates {(133.4,0.12)(138.4,0.063)(143.4,0.03)(150.4,0.009)(158.4,0)};
\addplot[inrl!55] coordinates {(158.4,0)(243,0)};
\addplot[inr] coordinates {(59.2,1)(98.4,1)};
\addplot[ar] coordinates {(59.2,0)(59.2,1)};
\addplot[ar,line width=1.2pt] coordinates {(88.8,0.5)(118.4,0.5)};
\node[font=\cf\bfseries\fs{9.5},text=inr] at (axis cs:44,0.55) {Ipeak};
\node[font=\cf\bfseries\fs{9.5},text=inr] at (axis cs:103.6,0.4) {Twidth};
\end{axis}

\node[anchor=west,inner sep=0pt,font=\cf\fs{12},text=txt] at (111pt,-1436.5pt) {\textbf{Ipeak}\hspace{7pt}\textbf{3.6A}\hspace{5pt}\textbf{Input voltage 230V}};
\node[anchor=west,inner sep=0pt,font=\cf\fs{12},text=txt] at (111pt,-1450.5pt) {\textbf{Twidth 45us Input voltage 230V, measured at 50\%} Ipeak};
\node[anchor=west,inner sep=0pt,font=\cf\fs{12},text=txt] at (372pt,-1436.5pt) {\textbf{Ipeak}\hspace{7pt}\textbf{4.9A}\hspace{5pt}Input voltage 230V};
\node[anchor=west,inner sep=0pt,font=\cf\fs{12},text=txt] at (372pt,-1450.5pt) {\textbf{Twidth 45us Input voltage 230V, measured at 50\%} Ipeak};
\node[anchor=west,inner sep=0pt,font=\cf\fs{12},text=black!70] at (632.3pt,-1436.5pt) {Ipeak\hspace{7pt}6.4A\hspace{5pt}Input voltage 230V};
\node[anchor=west,inner sep=0pt,font=\cf\fs{12},text=txt] at (632.3pt,-1450.5pt) {Twidth \textbf{50us Input voltage} 230V, \textbf{measured at} 50\% \textbf{Ipeak}};
\node[anchor=west,inner sep=0pt,font=\cf\fs{12},text=txt] at (894pt,-1436.5pt) {\textbf{Ipeak}\hspace{7pt}\textbf{6.4A}\hspace{5pt}\textbf{Input voltage 230V}};
\node[anchor=west,inner sep=0pt,font=\cf\fs{12},text=txt] at (894pt,-1450.5pt) {Twidth 50us Input voltage \textbf{230V}, \textbf{\textcolor{inr}{measured at 50\% Ipeak}}};

% ================= ROW 8 (V-I) =================
\begin{axis}[vv, at={(146.6pt,-1503.3pt)}, width=208.8pt, xmin=-0.9, xmax=7.05, xticklabels={150,200,300,350,500,550,650,700}]
\addplot[fill=vfill, draw=vedge, line width=1.2pt] coordinates {(0,10)(0,42)(1,42)(2,42)(3,42)(4,30)(5,27)(6,23)(7,21.8)(7,10)(0,10)};
\addplot[vline, line width=2pt] coordinates {(0,42)(1,42)(2,42)(3,42)(4,30)(5,27)(6,23)(7,21.8)};
\addplot[lab] coordinates {(0,42)[42](1,42)[42](2,42)[42](3,42)[42](4,30)[30](5,27)[27](6,23)[23](7,21.8)[21.8]};
\end{axis}

\begin{axis}[vv, at={(407.3pt,-1503.3pt)}, width=209pt, xmin=-0.95, xmax=7.1, xticklabels={200,250,300,350,550,600,650,700}]
\addplot[vedge, line width=1.2pt] coordinates {(0,41)(0,10)};
\addplot[vline, line width=1.2pt] coordinates {(0,10)(7,10)(7,29)};
\addplot[vline, line width=2pt] coordinates {(0,41)(1,41)(2,41.5)(3,41.5)(3.3,40)};
\addplot[vmid, line width=2pt] coordinates {(3.3,40)(4,34.5)(5,32.6)(6,30.5)};
\addplot[vdark, line width=2.6pt] coordinates {(6,30.5)(7,28.8)};
\addplot[lab] coordinates {(0,41)[41](1,41)[41](2,42)[42](3,42)[42](4,34)[34](5,33)[33](6,31)[31](7,29)[29]};
\end{axis}

\begin{axis}[vv, at={(661pt,-1503.3pt)}, width=206pt, xmin=-0.98, xmax=7.08, xticklabels={200,300,400,500,600,700,800,900}]
\addplot[fill=vfill!60, draw=vedge, line width=1.2pt] coordinates {(0,10)(0,42)(1,42)(2,42)(3,42)(4,42)(5,36)(6,31)(7,28)(7,10)(0,10)};
\addplot[vline, line width=1.2pt] coordinates {(0,10)(7,10)};
\addplot[xblue, line width=2.6pt] coordinates {(0,42)(1,42)(2,42)(3,42)(4,42)};
\addplot[vline!75!xblue, line width=2pt] coordinates {(4,42)(5,36)(6,31)(7,28)};
\addplot[lab] coordinates {(0,42)[42](1,42)[42](2,42)[42](3,42)[42](4,42)[42](5,36)[36](6,31)[31](7,28)[28]};
\end{axis}

\begin{axis}[vv, at={(929pt,-1503.3pt)}, width=207.5pt, xmin=-0.95, xmax=7.08, xticklabels={200,300,400,500,600,700,800,900}, grid style={densely dotted, line width=0.8pt, draw=vline!80}, tick label style={text=black!75}, xticklabel style={font=\cf\bfseries\fs{9}}]
\addplot[vdark, line width=1.2pt] coordinates {(0,42)(0,10)(7,10)(7,34)};
\addplot[vdark, line width=2.2pt] coordinates {(0,42)(1,42)(2,42)(3,42)(4,42)(5,40)(6,36)(7,34)};
\addplot[lab] coordinates {(0,42)[42](1,42)[42](2,42)[42](3,42)[42](4,42)[42](5,40)[40](6,36)[36](7,34)[34]};
\end{axis}
\end{tikzpicture}
\end{document}
